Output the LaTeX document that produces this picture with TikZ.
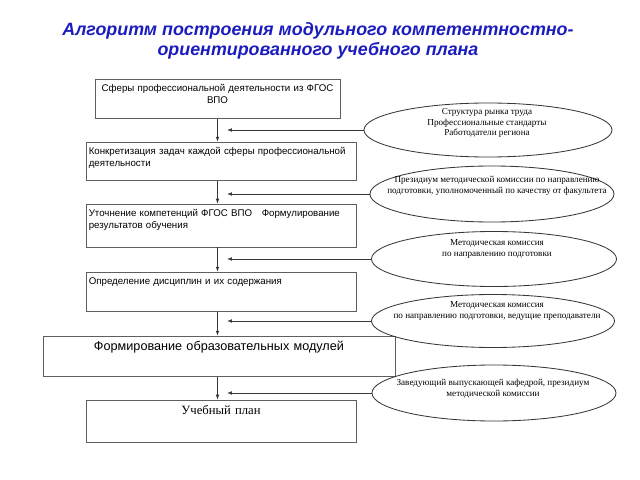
\documentclass[tikz,border=0pt]{standalone}
\usepackage{fontspec}
\setmainfont{Liberation Serif}
\setsansfont{Liberation Sans}
\usetikzlibrary{shapes.geometric,arrows.meta}
\definecolor{titleblue}{RGB}{28,28,190}
\definecolor{boxline}{RGB}{95,95,95}
\definecolor{ovalline}{RGB}{55,55,55}
\newcommand{\pxu}{0.025cm}
\tikzset{
  stage/.style={draw=boxline, line width=0.6pt, inner xsep=2pt, inner ysep=0pt,
    text height=8.5pt, font=\sffamily\fontsize{6.9}{9}\selectfont},
  oval/.style={draw=ovalline, line width=0.6pt, ellipse},
  ovaltext/.style={align=center, inner sep=0pt, font=\fontsize{6.5}{7.6}\selectfont},
  flow/.style={draw=ovalline, line width=0.5pt, -{Latex[length=3.5pt,width=2.6pt]}}
}
\begin{document}
\begin{tikzpicture}[x=0.025cm,y=-0.025cm]
  \useasboundingbox (0,0) rectangle (640,480);
  \node[align=center, text=titleblue, font=\sffamily\bfseries\itshape\fontsize{12.7}{14}\selectfont]
    (title) at (318,41) {Алгоритм построения модульного компетентностно-\\ориентированного учебного плана};
  % stages
  \node[stage, align=center, text width=245*\pxu-4pt, text depth=19.8pt] (b1) at (217.5,99)
    {\mbox{Сферы профессиональной деятельности из ФГОС}\\ВПО};
  \node[stage, align=left, text width=270*\pxu-4pt, text depth=19.1pt] (b2) at (221,161.5)
    {\mbox{Конкретизация задач каждой сферы профессиональной}\\деятельности};
  \node[stage, align=left, text width=270*\pxu-4pt, text depth=22pt] (b3) at (221,225.5)
    {\mbox{Уточнение компетенций ФГОС ВПО\quad Формулирование}\\результатов обучения};
  \node[stage, align=left, text width=270*\pxu-4pt, text depth=19.8pt] (b4) at (221,292)
    {Определение дисциплин и их содержания};
  \node[stage, align=center, text width=352*\pxu-4pt, text height=10.5pt, text depth=18.5pt,
    font=\sffamily\fontsize{9}{11}\selectfont] (b5) at (219,356.5)
    {Формирование образовательных модулей};
  \node[stage, align=center, text width=270*\pxu-4pt, text height=10pt, text depth=19.8pt,
    font=\fontsize{9}{11}\selectfont] (b6) at (221,421)
    {Учебный план};
  % participants
  \node[oval, minimum width=248*\pxu, minimum height=54*\pxu] (e1) at (488,130) {};
  \node[oval, minimum width=244*\pxu, minimum height=56*\pxu] (e2) at (492,194) {};
  \node[oval, minimum width=245*\pxu, minimum height=55*\pxu] (e3) at (494,259) {};
  \node[oval, minimum width=243*\pxu, minimum height=53*\pxu] (e4) at (493,321) {};
  \node[oval, minimum width=244*\pxu, minimum height=56*\pxu] (e5) at (494,393) {};
  \node[ovaltext] (e1t) at (487,123) {Структура рынка труда\\Профессиональные стандарты\\Работодатели региона};
  \node[ovaltext] (e2t) at (497,186) {Президиум методической комиссии по направлению\\подготовки, уполномоченный по качеству от факультета};
  \node[ovaltext] (e3t) at (497,249) {Методическая комиссия\\по направлению подготовки};
  \node[ovaltext] (e4t) at (497,311) {Методическая комиссия\\по направлению подготовки, ведущие преподаватели};
  \node[ovaltext] (e5t) at (493,389) {Заведующий выпускающей кафедрой, президиум\\методической комиссии};
  \coordinate (tip) at (227,0);
  \begin{scope}[flow]
    \draw (b1.south) to (b1.south |- b2.north);
    \draw (b1.south |- b2.south) to (b1.south |- b3.north);
    \draw (b1.south |- b3.south) to (b1.south |- b4.north);
    \draw (b1.south |- b4.south) to (b1.south |- b5.north);
    \draw (b1.south |- b5.south) to (b1.south |- b6.north);
    \draw (e1.west) to (e1.west -| tip);
    \draw (e2.west) to (e2.west -| tip);
    \draw (e3.west) to (e3.west -| tip);
    \draw (e4.west) to (e4.west -| tip);
    \draw (e5.west) to (e5.west -| tip);
  \end{scope}
\end{tikzpicture}
\end{document}
